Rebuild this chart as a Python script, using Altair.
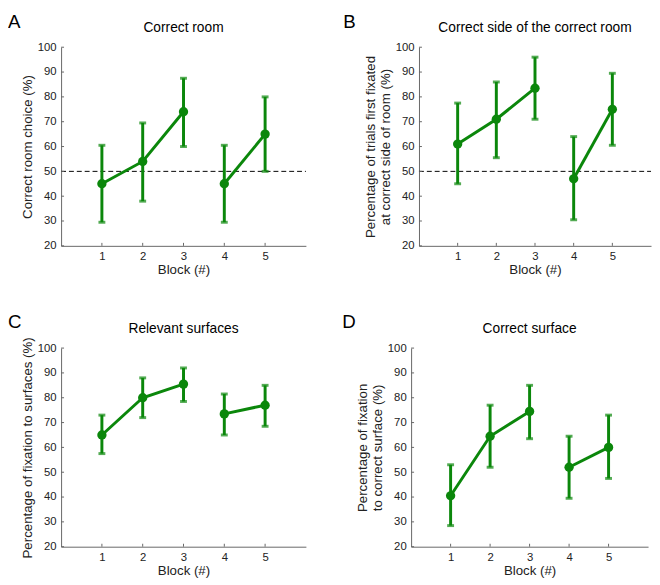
import altair as alt
import pandas as pd

blocks = [1, 2, 3, 4, 5]
segments = ["a", "a", "a", "b", "b"]

letters = ["A", "B", "C", "D"]
titles = ["Correct room", "Correct side of the correct room", "Relevant surfaces", "Correct surface"]
ytitles = [
    "Correct room choice (%)",
    ["Percentage of trials first fixated", "at correct side of room (%)"],
    "Percentage of fixation to surfaces (%)",
    ["Percentage of fixation", "to correct surface (%)"],
]

mean_a = [45, 54, 74, 45, 65]
low_a = [29.5, 38, 60, 29.5, 50]
high_a = [60.5, 69.5, 87.5, 60.5, 80]

mean_b = [61, 71, 83.5, 47, 75]
low_b = [45, 55.5, 71, 30.5, 60.5]
high_b = [77.5, 86, 96, 64, 89.5]

mean_c = [65, 80, 85.5, 73.5, 77]
low_c = [57.5, 72, 78.5, 65, 68.5]
high_c = [73, 88, 92, 81.5, 85]

mean_d = [40.5, 64.5, 74.5, 52, 60]
low_d = [28.5, 52, 63.5, 39.5, 47.5]
high_d = [53, 77, 85, 64.5, 73]

chance_level = [50, 50, None, None]
y_ticks = [20, 30, 40, 50, 60, 70, 80, 90, 100]
x_ticks = [1, 2, 3, 4, 5]

GREEN = "#0b870b"
FONT = "Liberation Sans"
H = 202


def panel(i, means, lows, highs, width, letter_dx):
    df = pd.DataFrame({"block": blocks, "seg": segments, "mean": means, "low": lows, "high": highs})
    xs = alt.Scale(domain=[0, 6], nice=False, zero=False)
    ys = alt.Scale(domain=[20, 100], nice=False, zero=False)
    common = dict(tickSize=0, domainColor="#666", labelColor="#222", titleColor="#222",
                  labelFontSize=11.5, titleFontSize=13.5, titleFontWeight="normal", grid=False,
                  labelFont=FONT, titleFont=FONT, labelOverlap=False, labelFlush=False)
    xax = alt.Axis(values=x_ticks, labelPadding=5, titlePadding=1, title="Block (#)", **common)
    yax = alt.Axis(values=y_ticks, labelPadding=5, titlePadding=3, title=ytitles[i], **common)

    def X(f):
        return alt.X(f, scale=xs, axis=xax)

    def Y(f):
        return alt.Y(f, scale=ys, axis=yax)

    base = alt.Chart(df)
    line = base.mark_line(color=GREEN, strokeWidth=3).encode(
        x=X("block:Q"), y=Y("mean:Q"), detail="seg:N")
    bars = base.mark_rule(color=GREEN, strokeWidth=3).encode(
        x=X("block:Q"), y=Y("low:Q"), y2="high:Q")
    cap_lo = base.mark_tick(color=GREEN, thickness=3, size=7, orient="horizontal").encode(
        x=X("block:Q"), y=Y("low:Q"))
    cap_hi = base.mark_tick(color=GREEN, thickness=3, size=7, orient="horizontal").encode(
        x=X("block:Q"), y=Y("high:Q"))
    pts = base.mark_point(color=GREEN, filled=True, opacity=1, size=90).encode(
        x=X("block:Q"), y=Y("mean:Q"))

    ytk = alt.Chart(pd.DataFrame({"t": y_ticks})).mark_rule(color="#666", strokeWidth=1).encode(
        y=Y("t:Q"), x=alt.value(0), x2=alt.value(3))
    xtk = alt.Chart(pd.DataFrame({"t": x_ticks})).mark_rule(color="#666", strokeWidth=1).encode(
        x=X("t:Q"), y=alt.value(H), y2=alt.value(H - 3))

    layers = [line, bars, cap_lo, cap_hi, pts, ytk, xtk]
    if chance_level[i] is not None:
        dash = alt.Chart(pd.DataFrame({"v": [chance_level[i]]})).mark_rule(
            color="black", strokeWidth=1, strokeDash=[5, 3]).encode(
            y=Y("v:Q"), x=alt.value(0), x2=alt.value(width))
        layers.insert(0, dash)

    lab = alt.Chart(pd.DataFrame({"letter": [letters[i]], "title": [titles[i]]}))
    layers.append(lab.mark_text(font=FONT, fontSize=19, align="left", baseline="alphabetic", color="black").encode(
        text="letter:N", x=alt.value(letter_dx), y=alt.value(-20)))
    layers.append(lab.mark_text(font=FONT, fontSize=14, align="center", baseline="middle", color="black").encode(
        text="title:N", x=alt.value(width / 2), y=alt.value(-19)))

    return alt.layer(*layers).properties(width=width, height=H)


pa = panel(0, mean_a, low_a, high_a, 249, -54)
pb = panel(1, mean_b, low_b, high_b, 236, -77)
pc = panel(2, mean_c, low_c, high_c, 249, -54)
pd_ = panel(3, mean_d, low_d, high_d, 241, -70)

chart = alt.vconcat(
    alt.hconcat(pa, pb, spacing=37),
    alt.hconcat(pc, pd_, spacing=37),
    spacing=38,
).properties(padding=0).configure_view(stroke=None).configure_axis(domainWidth=1)

chart.save("out.html", embed_options={"renderer": "svg", "actions": False})
